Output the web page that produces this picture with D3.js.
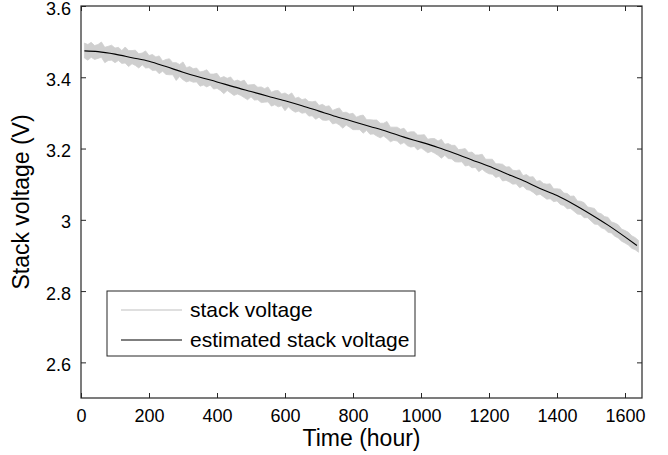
<!DOCTYPE html>
<html><head><meta charset="utf-8">
<script src="https://cdn.jsdelivr.net/npm/d3@7"></script>
<style>
body{margin:0;background:#fff;}
svg{display:block;font-family:"Liberation Sans",Arial,Helvetica,sans-serif;}
</style></head>
<body><svg id="c" width="668" height="455"></svg>
<script>
// ---- data ----
const noiseHours = [10,20,30,40,50,60,70,80,90,100,110,120,130,140,150,160,170,180,190,200,
210,220,230,240,250,260,270,280,290,300,310,320,330,340,350,360,370,380,390,400,
410,420,430,440,450,460,470,480,490,500,510,520,530,540,550,560,570,580,590,600,
610,620,630,640,650,660,670,680,690,700,710,720,730,740,750,760,770,780,790,800,
810,820,830,840,850,860,870,880,890,900,910,920,930,940,950,960,970,980,990,1000,
1010,1020,1030,1040,1050,1060,1070,1080,1090,1100,1110,1120,1130,1140,1150,1160,1170,1180,1190,1200,
1210,1220,1230,1240,1250,1260,1270,1280,1290,1300,1310,1320,1330,1340,1350,1360,1370,1380,1390,1400,
1410,1420,1430,1440,1450,1460,1470,1480,1490,1500,1510,1520,1530,1540,1550,1560,1570,1580,1590,1600,
1610,1620,1630,1640];
const stackHigh = [3.496,3.492,3.498,3.489,3.492,3.499,3.484,3.487,3.490,3.482,3.484,3.475,3.485,3.475,3.475,3.476,3.466,3.468,3.474,3.461,
3.464,3.457,3.460,3.446,3.450,3.452,3.441,3.441,3.436,3.443,3.427,3.430,3.424,3.426,3.415,3.417,3.421,3.409,3.409,3.411,
3.398,3.402,3.397,3.401,3.389,3.392,3.388,3.392,3.378,3.379,3.380,3.372,3.373,3.368,3.373,3.358,3.362,3.363,3.353,3.356,
3.350,3.356,3.341,3.344,3.337,3.340,3.332,3.331,3.333,3.321,3.324,3.318,3.320,3.307,3.311,3.314,3.301,3.302,3.297,3.299,
3.288,3.292,3.294,3.281,3.281,3.280,3.280,3.271,3.271,3.276,3.260,3.260,3.260,3.254,3.257,3.245,3.247,3.247,3.238,3.238,
3.239,3.226,3.228,3.228,3.221,3.226,3.212,3.214,3.209,3.209,3.197,3.198,3.200,3.189,3.190,3.182,3.182,3.184,3.170,3.170,
3.170,3.157,3.157,3.156,3.148,3.149,3.139,3.138,3.140,3.124,3.127,3.120,3.121,3.108,3.110,3.102,3.100,3.101,3.087,3.087,
3.086,3.075,3.074,3.066,3.067,3.053,3.052,3.048,3.036,3.034,3.032,3.020,3.017,3.009,3.007,2.994,2.991,2.986,2.974,2.970,
2.965,2.955,2.950,2.942];
const stackLow = [3.454,3.448,3.456,3.450,3.453,3.456,3.441,3.447,3.448,3.441,3.447,3.439,3.440,3.430,3.438,3.433,3.426,3.435,3.426,3.427,
3.419,3.420,3.410,3.417,3.408,3.407,3.407,3.391,3.402,3.393,3.387,3.390,3.386,3.387,3.375,3.378,3.373,3.378,3.367,3.369,
3.363,3.354,3.363,3.356,3.349,3.353,3.349,3.343,3.337,3.345,3.336,3.337,3.329,3.330,3.331,3.319,3.323,3.317,3.320,3.306,
3.317,3.308,3.302,3.305,3.299,3.301,3.291,3.292,3.282,3.288,3.280,3.279,3.281,3.269,3.272,3.266,3.257,3.266,3.260,3.253,
3.253,3.253,3.243,3.251,3.240,3.241,3.235,3.230,3.235,3.228,3.219,3.223,3.221,3.212,3.217,3.208,3.204,3.206,3.196,3.202,
3.195,3.188,3.192,3.187,3.181,3.173,3.181,3.172,3.171,3.163,3.162,3.163,3.151,3.153,3.146,3.147,3.135,3.142,3.134,3.129,
3.128,3.119,3.122,3.109,3.111,3.106,3.100,3.101,3.090,3.095,3.085,3.083,3.077,3.069,3.072,3.065,3.058,3.059,3.051,3.053,
3.043,3.040,3.031,3.032,3.024,3.016,3.015,3.006,3.006,2.997,2.988,2.987,2.978,2.974,2.965,2.963,2.954,2.949,2.940,2.935,
2.929,2.920,2.916,2.909];
const estHours = [10,50,100,150,200,250,300,350,400,450,500,550,600,650,700,750,800,850,900,950,
1000,1050,1100,1150,1200,1250,1300,1350,1400,1450,1500,1550,1600,1635];
const estVoltage = [3.474,3.472,3.465,3.455,3.445,3.430,3.414,3.400,3.387,3.373,3.360,3.347,3.334,3.320,3.305,3.290,3.276,3.262,3.248,3.232,
3.218,3.203,3.186,3.168,3.150,3.130,3.110,3.088,3.068,3.043,3.015,2.985,2.952,2.928];
const xTicks = [0,200,400,600,800,1000,1200,1400,1600];
const yTicks = [2.6,2.8,3,3.2,3.4,3.6];
const seriesNames = ["stack voltage","estimated stack voltage"];

// ---- layout ----
const W=668,H=455, m={l:81,t:6,r:26,b:57};
const svg=d3.select("#c");
const x=d3.scaleLinear().domain([0,1650]).range([m.l,W-m.r]);
const y=d3.scaleLinear().domain([2.5,3.6]).range([H-m.b,m.t]);
const axisCol="#262626";

// noisy series band
const band=noiseHours.map((h,i)=>({h,hi:stackHigh[i],lo:stackLow[i]}));
svg.append("path").datum(band)
  .attr("d",d3.area().x(d=>x(d.h)).y0(d=>y(d.lo)).y1(d=>y(d.hi)))
  .attr("fill","#cfcfcf").attr("stroke","#cfcfcf").attr("stroke-width",0.8);

// estimated line
const est=estHours.map((h,i)=>({h,v:estVoltage[i]}));
svg.append("path").datum(est)
  .attr("d",d3.line().x(d=>x(d.h)).y(d=>y(d.v)).curve(d3.curveMonotoneX))
  .attr("fill","none").attr("stroke","#000").attr("stroke-width",1.1);

// axes (ticks inward)
const fmt=d3.format("~g");
const gx=svg.append("g").attr("transform",`translate(0,${H-m.b})`)
  .call(d3.axisBottom(x).tickValues(xTicks).tickSize(-5).tickPadding(11).tickFormat(fmt));
const gxt=svg.append("g").attr("transform",`translate(0,${m.t})`)
  .call(d3.axisTop(x).tickValues(xTicks).tickSize(-5).tickFormat(""));
const gy=svg.append("g").attr("transform",`translate(${m.l},0)`)
  .call(d3.axisLeft(y).tickValues(yTicks).tickSize(-5).tickPadding(10).tickFormat(fmt));
const gyr=svg.append("g").attr("transform",`translate(${W-m.r},0)`)
  .call(d3.axisRight(y).tickValues(yTicks).tickSize(-5).tickFormat(""));
[gx,gxt,gy,gyr].forEach(g=>{
  g.select(".domain").remove();
  g.selectAll("line").attr("stroke",axisCol);
  g.selectAll("text").attr("fill","#000").style("font-size","18px").attr("font-family",null);
});
gy.selectAll("text").attr("dy","0.45em");
svg.append("rect").attr("x",m.l).attr("y",m.t).attr("width",W-m.l-m.r).attr("height",H-m.t-m.b)
  .attr("fill","none").attr("stroke",axisCol).attr("stroke-width",1.2);

// axis labels
svg.append("text").attr("x",(m.l+W-m.r)/2).attr("y",446).attr("text-anchor","middle")
  .style("font-size","23px").text("Time (hour)");
svg.append("text").attr("transform",`translate(29,${(m.t+H-m.b)/2}) rotate(-90)`).attr("text-anchor","middle")
  .style("font-size","23px").text("Stack voltage (V)");

// legend
const lg=svg.append("g");
lg.append("rect").attr("x",107).attr("y",291).attr("width",308).attr("height",65)
  .attr("fill","#fff").attr("stroke",axisCol).attr("stroke-width",1);
const lcol=["#d4d4d4","#000"];
seriesNames.forEach((n,i)=>{
  const yy=310+i*30;
  lg.append("line").attr("x1",121).attr("x2",182).attr("y1",yy).attr("y2",yy)
    .attr("stroke",lcol[i]).attr("stroke-width",i?1.2:1.5);
  lg.append("text").attr("x",190).attr("y",yy).attr("dy","0.35em")
    .style("font-size","21px").text(n);
});
</script></body></html>
